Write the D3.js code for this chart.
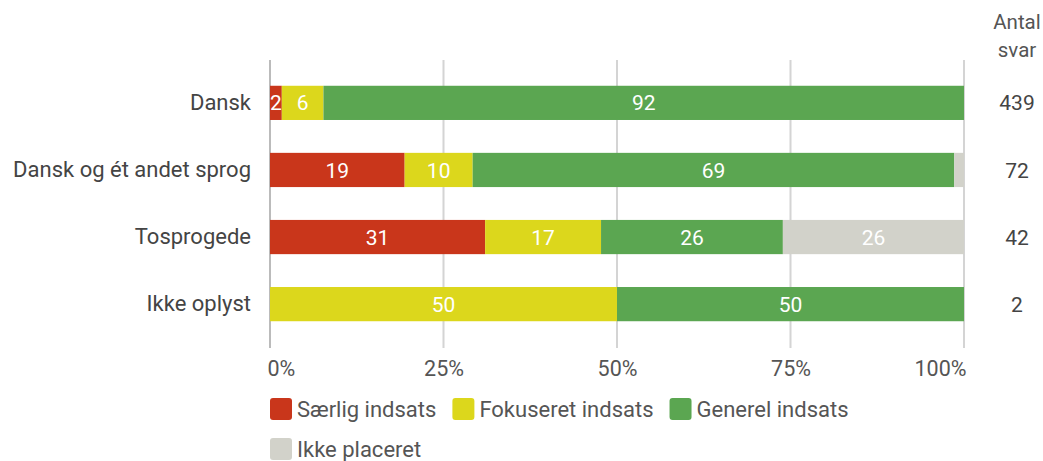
<!DOCTYPE html>
<html><head><meta charset="utf-8">
<script src="https://cdn.jsdelivr.net/npm/d3@7"></script>
<style>body{margin:0;background:#fff;}svg{display:block;font-family:Roboto, "Noto Sans", sans-serif;}</style>
</head><body>
<svg id="c" width="1043" height="461"></svg>
<script>
const categories = ["Dansk", "Dansk og ét andet sprog", "Tosprogede", "Ikke oplyst"];
const seriesNames = ["Særlig indsats", "Fokuseret indsats", "Generel indsats", "Ikke placeret"];
const saerlig = [1.7, 19.4, 31, 0];
const fokuseret = [6, 9.8, 16.7, 50];
const generel = [92.3, 69.4, 26.2, 50];
const ikkePlaceret = [0, 1.4, 26.1, 0];
const antalSvar = [439, 72, 42, 2];
const tickValues = [0, 25, 50, 75, 100];
const colors = ["#c9361b", "#dcd71c", "#5ba651", "#d2d2ca"];

const FS = 22;
const svg = d3.select("#c");
const x = d3.scaleLinear().domain([0, 100]).range([270, 964]);
const y = d3.scaleBand().domain(categories).range([69, 338]).paddingInner(0.49).paddingOuter(0.25);

// gridlines
svg.append("g").selectAll("line").data(tickValues).join("line")
  .attr("x1", d => x(d)).attr("x2", d => x(d))
  .attr("y1", 60).attr("y2", 348)
  .attr("stroke", d => d === 0 ? "#bbb" : "#d4d4d4").attr("stroke-width", 2);

// tick labels via axis
const ax = svg.append("g").attr("transform", "translate(0,361)")
  .call(d3.axisBottom(x).tickValues(tickValues).tickFormat(d => d + "%").tickSize(0));
ax.select(".domain").remove();
ax.selectAll("text").attr("font-size", 21.5).attr("fill", "#555").attr("font-family", "Roboto").attr("dy", "0.71em").attr("y", 0);
ax.selectAll(".tick").filter(d => d === 0).select("text").attr("text-anchor", "start").attr("dx", -3);
ax.selectAll(".tick").filter(d => d === 100).select("text").attr("text-anchor", "end").attr("dx", 2);

// stack
const rows = categories.map((c, i) => ({cat: c, s0: saerlig[i], s1: fokuseret[i], s2: generel[i], s3: ikkePlaceret[i]}));
const stack = d3.stack().keys(["s0", "s1", "s2", "s3"])(rows);

const gBars = svg.append("g");
stack.forEach((layer, li) => {
  const g = gBars.append("g");
  g.selectAll("rect").data(layer).join("rect")
    .attr("x", d => x(d[0])).attr("width", d => x(d[1]) - x(d[0]))
    .attr("y", d => y(d.data.cat)).attr("height", y.bandwidth())
    .attr("fill", colors[li]);
  g.selectAll("text").data(layer.filter(d => d[1] - d[0] >= 1.5)).join("text")
    .attr("x", d => (x(d[0]) + x(d[1])) / 2)
    .attr("y", d => y(d.data.cat) + y.bandwidth() / 2)
    .attr("dy", "0.36em").attr("text-anchor", "middle")
    .attr("fill", "#fff").attr("font-size", 21)
    .text(d => Math.round(d[1] - d[0]));
});

// category labels
const ay = svg.append("g").attr("transform", "translate(251,0)")
  .call(d3.axisLeft(y).tickSize(0));
ay.select(".domain").remove();
ay.selectAll("text").attr("font-size", FS).attr("fill", "#444").attr("font-family", "Roboto").attr("x", 0);

// Antal svar
svg.append("text").attr("x", 1017).attr("y", 29).attr("text-anchor", "middle").attr("font-size", 20.5).attr("fill", "#555").text("Antal");
svg.append("text").attr("x", 1017).attr("y", 57).attr("text-anchor", "middle").attr("font-size", 20.5).attr("fill", "#555").text("svar");
svg.append("g").selectAll("text").data(categories).join("text")
  .attr("x", 1017).attr("y", d => y(d) + y.bandwidth() / 2).attr("dy", "0.36em")
  .attr("text-anchor", "middle").attr("font-size", 21).attr("fill", "#444")
  .text((d, i) => antalSvar[i]);

// legend
const legendRows = [[0, 1, 2], [3]];
const rowY = [409, 449];
legendRows.forEach((row, ri) => {
  let cx = 270;
  row.forEach(si => {
    const g = svg.append("g");
    g.append("rect").attr("x", cx).attr("y", rowY[ri] - 11).attr("width", 22).attr("height", 22).attr("rx", 3).attr("fill", colors[si]);
    const t = g.append("text").attr("x", cx + 27).attr("y", rowY[ri]).attr("dy", "0.36em")
      .attr("font-size", FS).attr("fill", "#555").text(seriesNames[si]);
    cx = cx + 27 + t.node().getComputedTextLength() + 16;
  });
});
</script>
</body></html>
